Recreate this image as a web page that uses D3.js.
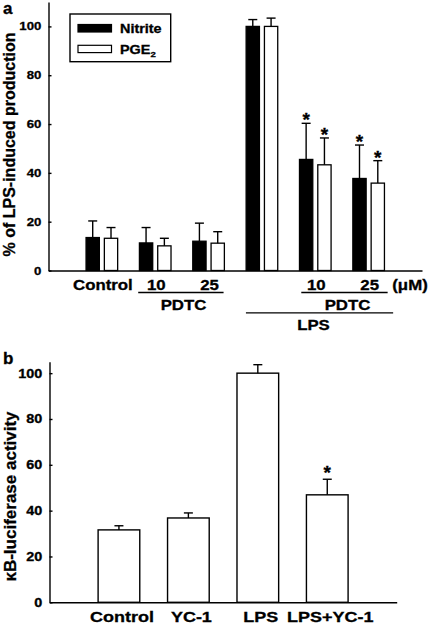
<!DOCTYPE html>
<html>
<head>
<meta charset="utf-8">
<script src="https://cdn.jsdelivr.net/npm/d3@7"></script>
<style>
  html, body { margin: 0; padding: 0; background: #fff; }
  svg { display: block; }
  text { font-family: "Liberation Sans", Arial, sans-serif; font-weight: bold; fill: #000; stroke: #000; stroke-width: 0.3px; }
</style>
</head>
<body>
<svg id="chart" width="431" height="626"></svg>
<script>
// ---------- Panel a data ----------
const groupsA = ["Control", "PDTC10", "PDTC25", "LPS", "LPS+PDTC10", "LPS+PDTC25"];
const tickLabelsA = ["Control", "10", "25", "", "10", "25"];
const nitrite = [13.5, 11.3, 12.0, 100, 45.5, 37.7];
const nitriteErr = [6.8, 6.3, 7.4, 2.8, 14.8, 13.7];
const pge2 = [13.2, 10.1, 11.2, 100, 43.3, 35.8];
const pge2Err = [4.4, 3.1, 4.7, 3.4, 11.0, 9.2];
const starA = [false, false, false, false, true, true];
const yTicksA = [0, 20, 40, 60, 80, 100];

// ---------- Panel b data ----------
const groupsB = ["Control", "YC-1", "LPS", "LPS+YC-1"];
const luciferase = [31.6, 36.8, 100, 46.9];
const luciferaseErr = [1.8, 2.2, 3.7, 6.8];
const starB = [false, false, false, true];
const yTicksB = [0, 20, 40, 60, 80, 100];

const svg = d3.select("#chart");
const SX = 1.2; // horizontal stretch of glyphs in the original

function label(g, x, y, txt, size, anchor) {
  return g.append("text")
    .attr("transform", `translate(${x},${y}) scale(${SX},1)`)
    .attr("font-size", size)
    .attr("text-anchor", anchor || "middle")
    .text(txt);
}

// ================= Panel a =================
const gA = svg.append("g");
const yA = d3.scaleLinear().domain([0, 110]).range([270.5, 2]);
const xA = d3.scalePoint().domain(groupsA).range([48.5, 422]).padding(1);
const bw = 13.3, gap = 5;

gA.selectAll("rect.nit").data(groupsA).join("rect")
  .attr("x", d => xA(d) - gap / 2 - bw)
  .attr("y", (d, i) => yA(nitrite[i]))
  .attr("width", bw)
  .attr("height", (d, i) => yA(0) - yA(nitrite[i]))
  .attr("fill", "#000").attr("stroke", "#000").attr("stroke-width", 1.3);
gA.selectAll("rect.pge").data(groupsA).join("rect")
  .attr("x", d => xA(d) + gap / 2)
  .attr("y", (d, i) => yA(pge2[i]))
  .attr("width", bw)
  .attr("height", (d, i) => yA(0) - yA(pge2[i]))
  .attr("fill", "#fff").attr("stroke", "#000").attr("stroke-width", 1.3);

function errBar(g, cx, yTop, yEnd) {
  g.append("line").attr("x1", cx).attr("x2", cx).attr("y1", yTop).attr("y2", yEnd)
    .attr("stroke", "#000").attr("stroke-width", 1.4);
  g.append("line").attr("x1", cx - 4.5).attr("x2", cx + 4.5).attr("y1", yEnd).attr("y2", yEnd)
    .attr("stroke", "#000").attr("stroke-width", 1.4);
}
groupsA.forEach((d, i) => {
  const cn = xA(d) - gap / 2 - bw / 2;
  const cp = xA(d) + gap / 2 + bw / 2;
  errBar(gA, cn, yA(nitrite[i]), yA(nitrite[i] + nitriteErr[i]));
  errBar(gA, cp, yA(pge2[i]), yA(pge2[i] + pge2Err[i]));
  if (starA[i]) {
    gA.append("text").attr("x", cn).attr("y", yA(nitrite[i] + nitriteErr[i]) + 3)
      .attr("font-size", 19).attr("text-anchor", "middle").text("*");
    gA.append("text").attr("x", cp).attr("y", yA(pge2[i] + pge2Err[i]) + 3)
      .attr("font-size", 19).attr("text-anchor", "middle").text("*");
  }
});

const axA = gA.append("g").attr("transform", "translate(48.5,0)")
  .call(d3.axisLeft(yA).tickValues(yTicksA).tickSizeInner(-3).tickSizeOuter(0).tickPadding(6));
axA.selectAll("text").attr("font-size", 11).attr("font-family", "Liberation Sans, Arial, sans-serif")
  .attr("font-weight", "bold").attr("transform", `scale(${SX},1)`);
axA.selectAll("path, line").attr("stroke", "#000").attr("stroke-width", 1.4);
const axAx = gA.append("g").attr("transform", "translate(0,270.5)")
  .call(d3.axisBottom(xA).tickValues([]).tickSizeOuter(0));
axAx.select("path").attr("stroke", "#000").attr("stroke-width", 1.4);

groupsA.forEach((d, i) => {
  if (tickLabelsA[i]) label(gA, xA(d) + 1, 289.5, tickLabelsA[i], 14);
});
label(gA, 410, 289.5, "(\u03BCM)", 14);

function bracket(g, x1, x2, y) {
  g.append("line").attr("x1", x1).attr("x2", x2).attr("y1", y).attr("y2", y)
    .attr("stroke", "#000").attr("stroke-width", 1.3);
}
bracket(gA, xA("PDTC10") - 17, xA("PDTC25") + 15, 292.5);
label(gA, 183.5, 310, "PDTC", 14);
bracket(gA, xA("LPS+PDTC10") - 14, xA("LPS+PDTC25") + 19, 292.5);
label(gA, 347.5, 310, "PDTC", 14);
bracket(gA, xA("LPS") - 16, xA("LPS+PDTC25") + 24.5, 312.8);
label(gA, 313.5, 330, "LPS", 14);

// legend
gA.append("rect").attr("x", 70).attr("y", 14).attr("width", 100.7).attr("height", 47.7)
  .attr("fill", "#fff").attr("stroke", "#000").attr("stroke-width", 1.4);
gA.append("rect").attr("x", 78).attr("y", 24.5).attr("width", 33.5).attr("height", 7.5)
  .attr("fill", "#000").attr("stroke", "#000").attr("stroke-width", 1.2);
gA.append("rect").attr("x", 78).attr("y", 45.3).attr("width", 33.5).attr("height", 7.3)
  .attr("fill", "#fff").attr("stroke", "#000").attr("stroke-width", 1.2);
label(gA, 120, 33, "Nitrite", 12, "start");
const pg = label(gA, 120, 53.5, "PGE", 12, "start");
pg.append("tspan").attr("font-size", 8).attr("dy", 3).text("2");

svg.append("text").attr("x", 3).attr("y", 13.5).attr("font-size", 17).text("a");
svg.append("text").attr("transform", "translate(14.5,144.5) rotate(-90)")
  .attr("font-size", 16).attr("text-anchor", "middle").text("% of LPS-induced production");

// ================= Panel b =================
const gB = svg.append("g");
const yB = d3.scaleLinear().domain([0, 105]).range([602.3, 361.7]);
const xB = d3.scalePoint().domain(groupsB).range([49.5, 396.7]).padding(1);
const bwB = xB.step() * 0.6;

gB.selectAll("rect.luc").data(groupsB).join("rect")
  .attr("x", d => xB(d) - bwB / 2)
  .attr("y", (d, i) => yB(luciferase[i]))
  .attr("width", bwB)
  .attr("height", (d, i) => yB(0) - yB(luciferase[i]))
  .attr("fill", "#fff").attr("stroke", "#000").attr("stroke-width", 1.4);
groupsB.forEach((d, i) => {
  const c = xB(d);
  errBar(gB, c, yB(luciferase[i]), yB(luciferase[i] + luciferaseErr[i]));
  if (starB[i]) {
    gB.append("text").attr("x", c).attr("y", yB(luciferase[i] + luciferaseErr[i]) + 0)
      .attr("font-size", 19).attr("text-anchor", "middle").text("*");
  }
});

const axB = gB.append("g").attr("transform", "translate(49.5,0)")
  .call(d3.axisLeft(yB).tickValues(yTicksB).tickSizeInner(-3).tickSizeOuter(0).tickPadding(6));
axB.selectAll("text").attr("font-size", 12).attr("font-family", "Liberation Sans, Arial, sans-serif")
  .attr("font-weight", "bold").attr("transform", `scale(${SX},1)`);
axB.selectAll("path, line").attr("stroke", "#000").attr("stroke-width", 1.4);
const axBx = gB.append("g").attr("transform", "translate(0,602.3)")
  .call(d3.axisBottom(xB).tickValues([]).tickSizeOuter(0));
axBx.select("path").attr("stroke", "#000").attr("stroke-width", 1.4);

groupsB.forEach(d => label(gB, xB(d) + 3, 622, d, 15));

svg.append("text").attr("x", 3).attr("y", 363.5).attr("font-size", 17).text("b");
svg.append("text").attr("transform", "translate(16,496.5) rotate(-90)")
  .attr("font-size", 17).attr("text-anchor", "middle").text("\u03BAB-luciferase activity");
</script>
</body>
</html>
